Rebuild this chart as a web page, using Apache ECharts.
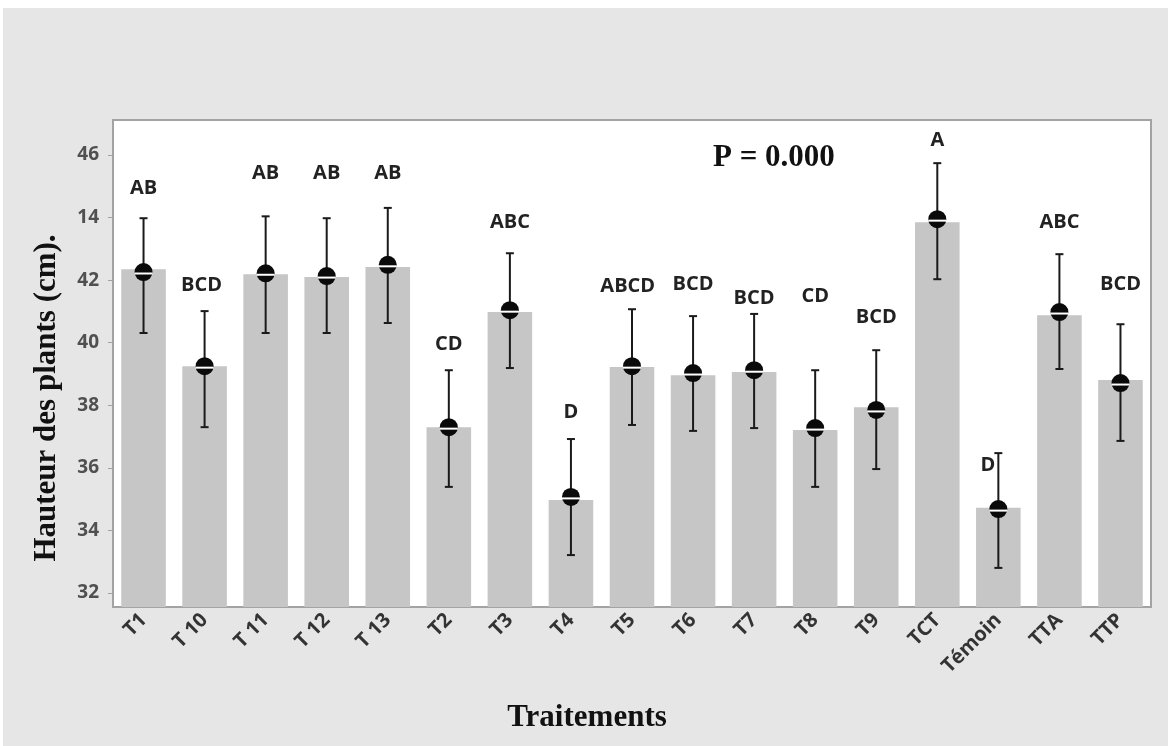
<!DOCTYPE html>
<html>
<head>
<meta charset="utf-8">
<script src="https://cdn.jsdelivr.net/npm/echarts@6/dist/echarts.min.js"></script>
<style>
html,body{margin:0;padding:0;background:#fff;}
#chart{position:absolute;left:3px;top:8px;width:1165px;height:738px;}
</style>
</head>
<body>
<div id="chart"></div>
<script>
// données
const categories = ['T1','T 10','T 11','T 12','T 13','T2','T3','T4','T5','T6','T7','T8','T9','TCT','Témoin','TTA','TTP'];
const barValues  = [42.35,39.25,42.19,42.10,42.42,37.30,40.98,34.97,39.22,38.96,39.06,37.21,37.94,43.85,34.72,40.88,38.81];
const meanValues = [42.26,39.25,42.22,42.13,42.49,37.30,41.04,35.07,39.25,39.03,39.12,37.27,37.85,43.95,34.68,40.98,38.71];
const upperValues= [43.98,41.01,44.04,43.98,44.31,39.12,42.86,36.92,41.07,40.85,40.92,39.12,39.76,45.74,36.47,42.83,40.59];
const lowerValues= [40.31,37.30,40.31,40.31,40.63,35.39,39.19,33.21,37.37,37.18,37.27,35.39,35.96,42.03,32.80,39.16,36.86];
const groupLetters = ['AB','BCD','AB','AB','AB','CD','ABC','D','ABCD','BCD','BCD','CD','BCD','A','D','ABC','BCD'];
const letterValues = [44.94,41.84,45.42,45.42,45.42,39.96,43.85,37.78,41.81,41.87,41.42,41.49,40.82,46.47,36.09,43.85,41.87];
const letterShift  = [0,-0.05,0,0,0,0,0,0,-0.07,0,0,0,0,0,-0.17,0,0]; // en fraction de catégorie
const tickValues = [32,34,36,38,40,42,44,46];
const tickLabels = ['32','34','36','38','40','42','14','46'];

const chart = echarts.init(document.getElementById('chart'));

const errData = categories.map((c, i) => [i, lowerValues[i], upperValues[i], meanValues[i]]);
const letterData = categories.map((c, i) => [i, letterValues[i]]);

const option = {
  backgroundColor: '#e6e6e6',
  animation: false,
  grid: {
    left: 110, right: 17, top: 112, bottom: 139,
    show: true,
    backgroundColor: '#ffffff',
    borderColor: '#a3a3a3',
    borderWidth: 2
  },
  xAxis: {
    type: 'category',
    data: categories,
    axisLine: { lineStyle: { color: '#a3a3a3', width: 2 } },
    axisTick: { alignWithLabel: true, length: 4, lineStyle: { color: '#a3a3a3' } },
    axisLabel: {
      rotate: 45,
      margin: 10,
      color: '#333',
      fontFamily: 'Open Sans',
      fontWeight: 'bold',
      fontSize: 20
    }
  },
  yAxis: {
    type: 'value',
    min: 31.55,
    max: 47.12,
    splitLine: { show: false },
    axisLine: { show: true, lineStyle: { color: '#a3a3a3', width: 2 } },
    axisTick: { show: true, length: 5, customValues: tickValues, lineStyle: { color: '#a3a3a3' } },
    axisLabel: {
      customValues: tickValues,
      margin: 14,
      color: '#505050',
      fontFamily: 'Open Sans',
      fontWeight: 'bold',
      fontSize: 19,
      formatter: function (v) {
        const k = tickValues.indexOf(Math.round(v));
        return k >= 0 ? tickLabels[k] : '';
      }
    }
  },
  graphic: [
    { // P value
      type: 'text', x: 710, y: 150,
      style: { text: 'P = 0.000', font: 'bold 31px "Liberation Serif"', fill: '#111', align: 'left', verticalAlign: 'middle' }
    },
    { // x title
      type: 'text', x: 584, y: 710,
      style: { text: 'Traitements', font: 'bold 31px "Liberation Serif"', fill: '#111', align: 'center', verticalAlign: 'middle' }
    },
    { // y title
      type: 'text', x: 44, y: 390, rotation: Math.PI / 2,
      style: { text: 'Hauteur des plants (cm).', font: 'bold 31px "Liberation Serif"', fill: '#111', align: 'center', verticalAlign: 'middle' }
    }
  ],
  series: [
    {
      type: 'bar',
      data: barValues,
      barCategoryGap: '27%',
      itemStyle: { color: '#c6c6c6' }
    },
    {
      type: 'custom',
      data: errData,
      clip: false,
      z: 5,
      renderItem: function (params, api) {
        const x = api.value(0);
        const lo = api.coord([x, api.value(1)]);
        const hi = api.coord([x, api.value(2)]);
        const mid = api.coord([x, api.value(3)]);
        const cap = 4, col = '#1a1a1a';
        return {
          type: 'group',
          children: [
            { type: 'line', shape: { x1: hi[0], y1: hi[1], x2: lo[0], y2: lo[1] }, style: { stroke: col, lineWidth: 2 } },
            { type: 'line', shape: { x1: hi[0] - cap, y1: hi[1], x2: hi[0] + cap, y2: hi[1] }, style: { stroke: col, lineWidth: 2 } },
            { type: 'line', shape: { x1: lo[0] - cap, y1: lo[1], x2: lo[0] + cap, y2: lo[1] }, style: { stroke: col, lineWidth: 2 } },
            { type: 'circle', shape: { cx: mid[0], cy: mid[1], r: 9 }, style: { fill: '#0a0a0a' } },
            { type: 'rect', shape: { x: mid[0] - 9, y: mid[1] + 0.5, width: 18, height: 2 }, style: { fill: '#ffffff' } }
          ]
        };
      }
    },
    {
      type: 'custom',
      data: letterData,
      clip: false,
      z: 6,
      renderItem: function (params, api) {
        const i = params.dataIndex;
        const p = api.coord([api.value(0), api.value(1)]);
        const band = api.size([1, 0])[0];
        return {
          type: 'text',
          x: p[0] + letterShift[i] * band, y: p[1],
          style: {
            text: groupLetters[i],
            font: 'bold 20px "Open Sans"',
            fill: '#222',
            align: 'center',
            verticalAlign: 'middle'
          }
        };
      }
    }
  ]
};

chart.setOption(option);
</script>
</body>
</html>
